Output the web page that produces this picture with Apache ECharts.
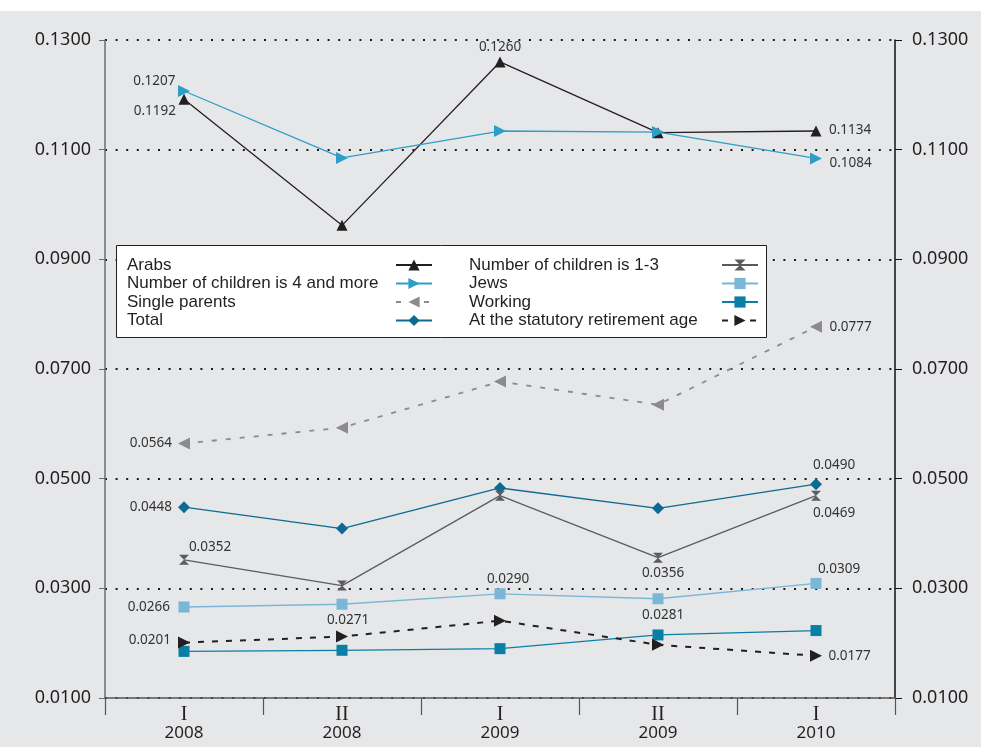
<!DOCTYPE html>
<html>
<head>
<meta charset="utf-8">
<script src="https://cdn.jsdelivr.net/npm/echarts@6/dist/echarts.min.js"></script>
<style>
  html, body { margin: 0; padding: 0; background: #ffffff; }
  #chart { width: 981px; height: 747px; }
</style>
</head>
<body>
<div id="chart"></div>
<script>
// Periods on the horizontal axis (half-year numeral + year)
const quarters = ['I', 'II', 'I', 'II', 'I'];
const years = ['2008', '2008', '2009', '2009', '2010'];

// Value axis range and step
const yMin = 0.01;
const yMax = 0.13;
const yStep = 0.02;

// Series values per period
const arabs = [0.1192, 0.0962, 0.1260, 0.1131, 0.1134];
const kids4plus = [0.1207, 0.1085, 0.1134, 0.1132, 0.1084];
const singleParents = [0.0564, 0.0593, 0.0677, 0.0635, 0.0777];
const total = [0.0448, 0.0409, 0.0483, 0.0446, 0.0490];
const kids1to3 = [0.0352, 0.0305, 0.0469, 0.0356, 0.0469];
const jews = [0.0266, 0.0271, 0.0290, 0.0281, 0.0309];
const working = [0.0185, 0.0187, 0.0190, 0.0215, 0.0223];
const retirementAge = [0.0201, 0.0212, 0.0241, 0.0197, 0.0177];

// Which points carry a value label, and where it sits
const labelSpots = {
  'Arabs': { 0: ['left', [2.5, 12]], 2: ['top', [0, 3]], 4: ['right', [2.5, -1]] },
  'Number of children is 4 and more': { 0: ['left', [2.5, -10]], 4: ['right', [2.5, 5]] },
  'Single parents': { 0: ['left', [-1, 0]], 4: ['right', [2.5, 0]] },
  'Total': { 0: ['left', [-1, 0]], 4: ['top', [18, -1]] },
  'Number of children is 1-3': { 0: ['top', [26, 4]], 3: ['bottom', [5, -1]], 4: ['bottom', [18, 0]] },
  'Jews': { 0: ['left', [-3.5, 0]], 1: ['bottom', [6, -2]], 2: ['top', [8, 3]], 3: ['bottom', [5, -1.5]], 4: ['top', [23, 3]] },
  'Working': {},
  'At the statutory retirement age': { 0: ['left', [-2, -2]], 4: ['right', [1.5, 0]] }
};

const hourglass = 'path://M0,0L10,0L5,5L10,10L0,10L5,5Z';

const seriesDefs = [
  { name: 'Arabs', data: arabs, color: '#231f20', symbol: 'triangle', rotate: 0, size: 11, dash: null, width: 1.3 },
  { name: 'Number of children is 4 and more', data: kids4plus, color: '#2e9ec8', symbol: 'triangle', rotate: -90, size: 12, dash: null, width: 1.3 },
  { name: 'Single parents', data: singleParents, color: '#8b8b8d', symbol: 'triangle', rotate: 90, size: 12, dash: [5, 9], width: 1.8 },
  { name: 'Total', data: total, color: '#0b6b92', symbol: 'diamond', rotate: 0, size: 12, dash: null, width: 1.3 },
  { name: 'Number of children is 1-3', data: kids1to3, color: '#5c5c5e', symbol: hourglass, rotate: 0, size: 10, dash: null, width: 1.3 },
  { name: 'Jews', data: jews, color: '#7ab6d5', symbol: 'rect', rotate: 0, size: 11, dash: null, width: 1.3 },
  { name: 'Working', data: working, color: '#0a7fa6', symbol: 'rect', rotate: 0, size: 11, dash: null, width: 1.3 },
  { name: 'At the statutory retirement age', data: retirementAge, color: '#231f20', symbol: 'triangle', rotate: -90, size: 12, dash: [6, 8], width: 2 }
];

const series = seriesDefs.map(function (d) {
  const spots = labelSpots[d.name] || {};
  return {
    name: d.name,
    type: 'line',
    z: 2,
    data: d.data.map(function (v, i) {
      const s = spots[i];
      if (!s) return v;
      return { value: v, label: { show: true, position: s[0], offset: s[1] } };
    }),
    symbol: d.symbol,
    symbolRotate: d.rotate,
    symbolSize: d.size,
    symbolKeepAspect: true,
    showAllSymbol: true,
    lineStyle: { color: d.color, width: d.width, type: d.dash ? d.dash : 'solid' },
    itemStyle: { color: d.color },
    emphasis: { disabled: true },
    animation: false,
    label: {
      show: false,
      distance: 5,
      fontFamily: 'Noto Sans',
      fontSize: 13.5,
      color: '#333333',
      formatter: function (p) { return Number(p.value).toFixed(4); }
    }
  };
});

// Legend column: text on the left in a fixed-width box, marker to its right
function legendBlock(names, left, textWidth) {
  return {
    data: names,
    orient: 'vertical',
    left: left,
    top: 256,
    align: 'right',
    padding: 0,
    itemGap: 0.5,
    itemWidth: 36,
    itemHeight: 14,
    selectedMode: false,
    z: 5,
    formatter: function (name) { return '{t|' + name + '}'; },
    textStyle: {
      lineHeight: 18,
      fontFamily: 'Liberation Sans',
      fontSize: 17,
      color: '#231f20',
      rich: {
        t: {
          width: textWidth,
          align: 'left',
          lineHeight: 18,
          fontFamily: 'Liberation Sans',
          fontSize: 17,
          color: '#231f20'
        }
      }
    }
  };
}

const axisValueLabel = function (v) { return v.toFixed(4); };

const option = {
  backgroundColor: '#e6e7e9',
  animation: false,
  grid: { left: 105, right: 86, top: 40, bottom: 49 },
  graphic: [
    { type: 'rect', left: 0, top: 0, z: 3, shape: { width: 981, height: 11 }, style: { fill: '#ffffff' } },
    { type: 'rect', left: 116, top: 245, z: 3, shape: { width: 650, height: 92 }, style: { fill: '#ffffff', stroke: '#231f20', lineWidth: 1 } }
  ],
  legend: [
    legendBlock(['Arabs', 'Number of children is 4 and more', 'Single parents', 'Total'], 127, 264),
    legendBlock(['Number of children is 1-3', 'Jews', 'Working', 'At the statutory retirement age'], 469, 248)
  ],
  xAxis: {
    type: 'category',
    data: quarters.map(function (q, i) { return q + '|' + years[i]; }),
    boundaryGap: true,
    axisLine: { show: true, lineStyle: { color: '#555555', width: 1.5 } },
    axisTick: { show: true, length: 17, lineStyle: { color: '#555555', width: 1.2 } },
    axisLabel: {
      margin: 7,
      formatter: function (v) {
        const parts = v.split('|');
        return '{q|' + parts[0] + '}\n{y|' + parts[1] + '}';
      },
      rich: {
        q: { fontFamily: 'Liberation Serif', fontSize: 20, lineHeight: 19, color: '#231f20' },
        y: { fontFamily: 'Noto Sans', fontSize: 17, lineHeight: 19, color: '#231f20' }
      }
    },
    splitLine: { show: false }
  },
  yAxis: [
    {
      type: 'value',
      min: yMin, max: yMax, interval: yStep,
      axisLine: { show: true, lineStyle: { color: '#6d6d6d', width: 1.5 } },
      axisTick: { show: true, length: 6, lineStyle: { color: '#6d6d6d' } },
      axisLabel: { margin: 14, fontFamily: 'Noto Sans', fontSize: 18, color: '#231f20', formatter: axisValueLabel },
      splitLine: { show: true, lineStyle: { color: '#1a1a1a', width: 2, type: [2, 8.6] } }
    },
    {
      type: 'value',
      position: 'right',
      min: yMin, max: yMax, interval: yStep,
      axisLine: { show: true, lineStyle: { color: '#111111', width: 1.5 } },
      axisTick: { show: true, length: 7, lineStyle: { color: '#111111' } },
      axisLabel: { margin: 17, fontFamily: 'Noto Sans', fontSize: 18, color: '#231f20', formatter: axisValueLabel },
      splitLine: { show: false }
    }
  ],
  series: series
};

const chart = echarts.init(document.getElementById('chart'), null, { renderer: 'canvas' });
chart.setOption(option);
</script>
</body>
</html>
